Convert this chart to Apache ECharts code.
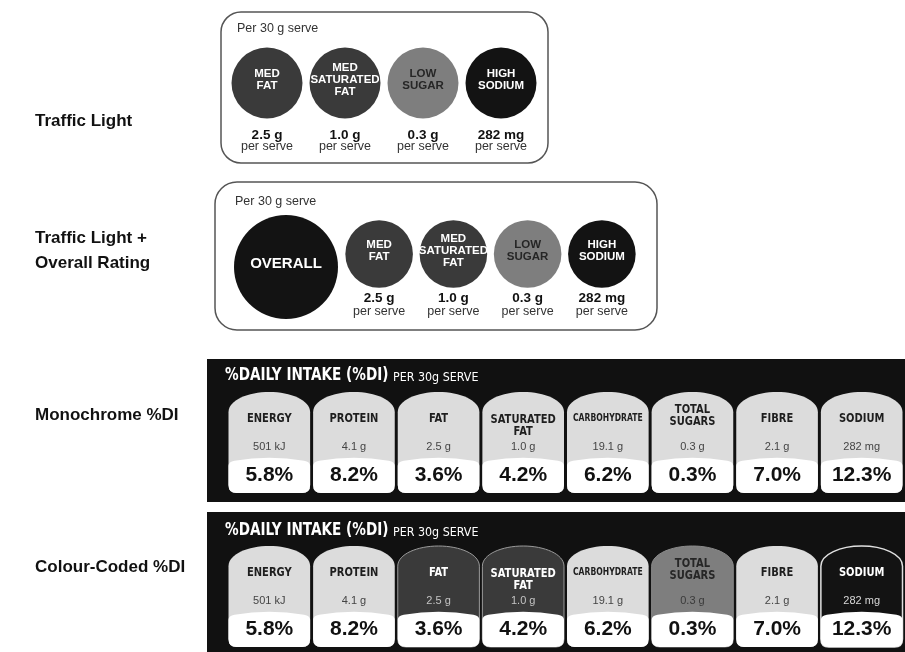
<!DOCTYPE html>
<html><head><meta charset="utf-8">
<script src="https://cdn.jsdelivr.net/npm/echarts@6/dist/echarts.min.js"></script>
<style>html,body{margin:0;padding:0;background:#fff}#c{width:905px;height:652px}</style>
</head><body><div id="c"></div>
<script>
// ---- data ----
const rowLabels = ['Traffic Light', 'Traffic Light +\nOverall Rating', 'Monochrome %DI', 'Colour-Coded %DI'];
const servingText = 'Per 30 g serve';
const tlNutrients = ['MED\nFAT', 'MED\nSATURATED\nFAT', 'LOW\nSUGAR', 'HIGH\nSODIUM'];
const tlLevels = ['med', 'med', 'low', 'high'];
const tlAmounts = ['2.5 g', '1.0 g', '0.3 g', '282 mg'];
const perServe = 'per serve';
const overallLabel = ['OVERALL'];
const overallLevel = ['high'];
const diTitle = '%DAILY INTAKE (%DI)';
const diSubtitle = 'PER 30g SERVE';
const diNutrients = ['ENERGY', 'PROTEIN', 'FAT', 'SATURATED\nFAT', 'CARBOHYDRATE', 'TOTAL\nSUGARS', 'FIBRE', 'SODIUM'];
const diAmounts = ['501 kJ', '4.1 g', '2.5 g', '1.0 g', '19.1 g', '0.3 g', '2.1 g', '282 mg'];
const diPercents = [5.8, 8.2, 3.6, 4.2, 6.2, 0.3, 7.0, 12.3];
const diLevels = ['none', 'none', 'med', 'med', 'none', 'low', 'none', 'high'];

// ---- styles ----
const SANS = '"Liberation Sans", Arial, Helvetica, sans-serif';
const COND = '"DejaVu Sans Condensed", "Liberation Sans", sans-serif';
const levelFill = { med: '#3a3a3a', low: '#7e7e7e', high: '#131313', none: '#dcdcdc' };
const levelText = { med: '#ffffff', low: '#262626', high: '#ffffff', none: '#1e1e1e' };
const levelAmt = { med: '#c4c4c4', low: '#3a3a3a', high: '#d8d8d8', none: '#444444' };
const levelStroke = { med: '#9a9a9a', low: '#8a8a8a', high: '#e0e0e0', none: null };
const nameShift = { 3: 7, 5: -3 };   // vertical nudges of two-line headings (px)

function circleRender(names, levels, amounts, ratio, fs, gapA, gapB) {
  return function (params, api) {
    const i = api.value(0);
    const c = api.coord([i, 0]);
    const r = api.size([1, 0])[0] * ratio;
    const lvl = levels[i];
    const ch = [
      { type: 'circle', shape: { cx: c[0], cy: c[1], r: r }, style: { fill: levelFill[lvl] } },
      { type: 'text', x: c[0], y: c[1] - 3, style: { text: names[i], fill: levelText[lvl], fontFamily: SANS, fontWeight: 'bold', fontSize: fs, lineHeight: fs + 0.5, align: 'center', verticalAlign: 'middle' } }
    ];
    if (amounts) {
      ch.push({ type: 'text', x: c[0], y: c[1] + r + gapA, style: { text: amounts[i], fill: '#111', fontFamily: SANS, fontWeight: 'bold', fontSize: 13.5, align: 'center', verticalAlign: 'middle' } });
      ch.push({ type: 'text', x: c[0], y: c[1] + r + gapB, style: { text: perServe, fill: '#333', fontFamily: SANS, fontSize: 12.5, align: 'center', verticalAlign: 'middle' } });
    }
    return { type: 'group', children: ch };
  };
}

function cellRender(coloured) {
  return function (params, api) {
    const i = api.value(0);
    const top = api.coord([i, 1]);
    const bot = api.coord([i, 0]);
    const band = api.size([1, 0])[0];
    const w = band - 3;
    const xc = top[0], x0 = xc - w / 2, x1 = xc + w / 2;
    const yT = top[1], yB = bot[1], h = yB - yT;
    const yS = yT + h * 0.2;
    const dy = yS - yT;
    const yW = yT + h * 0.65;
    const rr = 8;
    const lvl = coloured ? diLevels[i] : 'none';
    const grayPath = `M${x0},${yB - rr} L${x0},${yS} C${x0},${yS - dy * 0.6} ${x0 + w * 0.24},${yT} ${xc},${yT} C${x1 - w * 0.24},${yT} ${x1},${yS - dy * 0.6} ${x1},${yS} L${x1},${yB - rr} Q${x1},${yB} ${x1 - rr},${yB} L${x0 + rr},${yB} Q${x0},${yB} ${x0},${yB - rr} Z`;
    const whitePath = `M${x0},${yB - rr} L${x0},${yW + 8} Q${x0},${yW + 4} ${x0 + 6},${yW + 3} Q${xc},${yW - 3} ${x1 - 6},${yW + 3} Q${x1},${yW + 4} ${x1},${yW + 8} L${x1},${yB - rr} Q${x1},${yB} ${x1 - rr},${yB} L${x0 + rr},${yB} Q${x0},${yB} ${x0},${yB - rr} Z`;
    const name = diNutrients[i];
    const twoLine = name.indexOf('\n') >= 0;
    const fs = name.length > 10 && !twoLine ? 10 : 13;
    return {
      type: 'group', children: [
        { type: 'path', shape: { pathData: grayPath }, style: { fill: levelFill[lvl], stroke: coloured ? levelStroke[lvl] : null, lineWidth: lvl === 'high' ? 1.5 : 1 } },
        { type: 'path', shape: { pathData: whitePath }, style: { fill: '#ffffff' } },
        { type: 'text', x: xc, y: yT + h * 0.265 + (nameShift[i] || 0), scaleX: 0.85, style: { text: name, fill: levelText[lvl], fontFamily: COND, fontWeight: 'bold', fontSize: fs, lineHeight: 12, align: 'center', verticalAlign: 'middle' } },
        { type: 'text', x: xc, y: yT + h * 0.54, style: { text: diAmounts[i], fill: levelAmt[lvl], fontFamily: SANS, fontSize: 11, align: 'center', verticalAlign: 'middle' } },
        { type: 'text', x: xc, y: yT + h * 0.82, style: { text: api.value(1).toFixed(1) + '%', fill: '#111', fontFamily: SANS, fontWeight: 'bold', fontSize: 21, align: 'center', verticalAlign: 'middle' } }
      ]
    };
  };
}

const chart = echarts.init(document.getElementById('c'), null, { renderer: 'canvas' });
const labelStyle = { fill: '#111', fontFamily: SANS, fontWeight: 'bold', fontSize: 17, lineHeight: 22 };
const diHeader = (y) => ([
  { type: 'text', left: 225, top: y, scaleX: 0.84, style: { text: diTitle, fill: '#fff', fontFamily: COND, fontWeight: 'bold', fontSize: 18 } },
  { type: 'text', left: 393, top: y + 5, scaleX: 0.95, style: { text: diSubtitle, fill: '#fff', fontFamily: COND, fontSize: 13 } }
]);

chart.setOption({
  animation: false,
  backgroundColor: '#ffffff',
  graphic: [
    { type: 'text', left: 35, top: 110, style: Object.assign({ text: rowLabels[0] }, labelStyle) },
    { type: 'text', left: 35, top: 226, style: Object.assign({}, labelStyle, { text: rowLabels[1], lineHeight: 25 }) },
    { type: 'text', left: 35, top: 404, style: Object.assign({ text: rowLabels[2] }, labelStyle) },
    { type: 'text', left: 35, top: 556, style: Object.assign({ text: rowLabels[3] }, labelStyle) },
    { type: 'rect', shape: { x: 221, y: 12, width: 327, height: 151, r: 20 }, style: { fill: '#fff', stroke: '#555', lineWidth: 1.5 } },
    { type: 'rect', shape: { x: 215, y: 182, width: 442, height: 148, r: 22 }, style: { fill: '#fff', stroke: '#555', lineWidth: 1.5 } },
    { type: 'text', left: 237, top: 22, style: { text: servingText, fill: '#333', fontFamily: SANS, fontSize: 12.5 } },
    { type: 'text', left: 235, top: 195, style: { text: servingText, fill: '#333', fontFamily: SANS, fontSize: 12.5 } },
    { type: 'rect', shape: { x: 207, y: 359, width: 698, height: 143 }, style: { fill: '#111' } },
    { type: 'rect', shape: { x: 207, y: 512, width: 698, height: 140 }, style: { fill: '#111' } }
  ].concat(diHeader(366), diHeader(521)),
  grid: [
    { left: 228, top: 47, width: 312, height: 72 },
    { left: 234, top: 215, width: 104, height: 104 },
    { left: 342, top: 220, width: 297, height: 68 },
    { left: 227, top: 392, width: 677, height: 101 },
    { left: 227, top: 546, width: 677, height: 101 }
  ],
  xAxis: [
    { type: 'category', gridIndex: 0, data: tlNutrients, show: false },
    { type: 'category', gridIndex: 1, data: overallLabel, show: false },
    { type: 'category', gridIndex: 2, data: tlNutrients, show: false },
    { type: 'category', gridIndex: 3, data: diNutrients, show: false },
    { type: 'category', gridIndex: 4, data: diNutrients, show: false }
  ],
  yAxis: [
    { type: 'value', gridIndex: 0, min: -1, max: 1, show: false },
    { type: 'value', gridIndex: 1, min: -1, max: 1, show: false },
    { type: 'value', gridIndex: 2, min: -1, max: 1, show: false },
    { type: 'value', gridIndex: 3, min: 0, max: 1, show: false },
    { type: 'value', gridIndex: 4, min: 0, max: 1, show: false }
  ],
  series: [
    { type: 'custom', xAxisIndex: 0, yAxisIndex: 0, data: tlNutrients.map((n, i) => [i, 0]), renderItem: circleRender(tlNutrients, tlLevels, tlAmounts, 0.455, 11.5, 16.5, 28.5) },
    { type: 'custom', xAxisIndex: 1, yAxisIndex: 1, data: overallLabel.map((n, i) => [i, 0]), renderItem: circleRender(overallLabel, overallLevel, null, 0.5, 15, 0, 0) },
    { type: 'custom', xAxisIndex: 2, yAxisIndex: 2, data: tlNutrients.map((n, i) => [i, 0]), renderItem: circleRender(tlNutrients, tlLevels, tlAmounts, 0.455, 11.5, 10, 23.5) },
    { type: 'custom', xAxisIndex: 3, yAxisIndex: 3, data: diPercents.map((p, i) => [i, p]), renderItem: cellRender(false) },
    { type: 'custom', xAxisIndex: 4, yAxisIndex: 4, data: diPercents.map((p, i) => [i, p]), renderItem: cellRender(true) }
  ]
});
</script>
</body></html>
